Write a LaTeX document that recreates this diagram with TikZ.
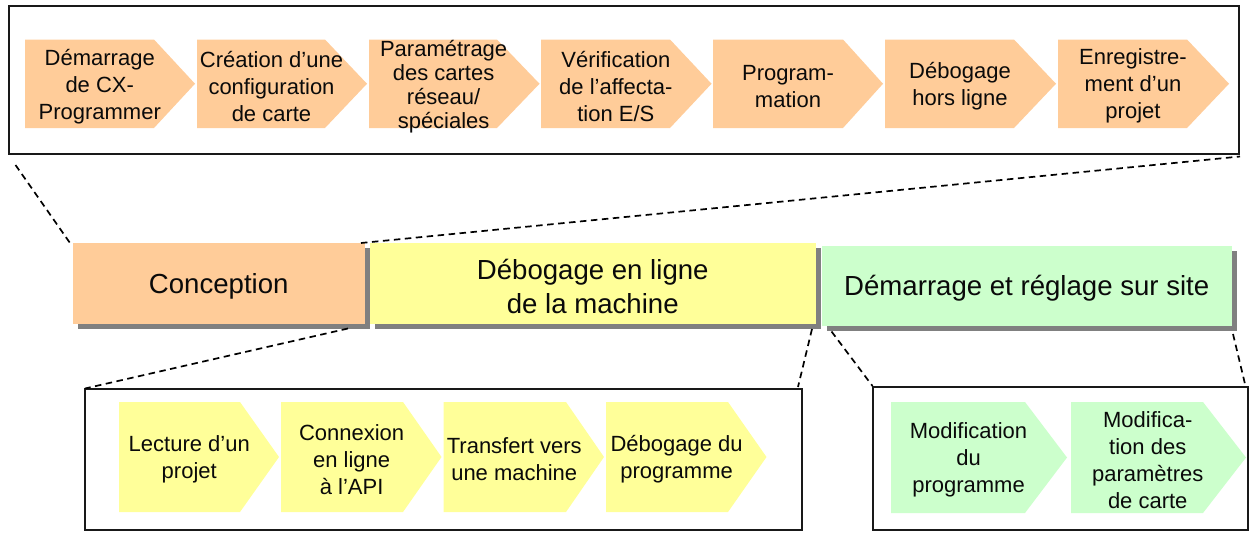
\documentclass[tikz,border=0pt]{standalone}
\usepackage{fontspec}
\setmainfont{Liberation Sans}
\usetikzlibrary{shadows}
\definecolor{cOrange}{HTML}{FFCC99}
\definecolor{cYellow}{HTML}{FFFF99}
\definecolor{cGreen}{HTML}{CCFFCC}
\definecolor{cShadow}{HTML}{808080}
\definecolor{cInk}{HTML}{0A0A0A}
\tikzset{
  framebox/.style={draw=black!90,line width=2pt,fill=white,inner sep=0pt},
  stagebox/.style={inner sep=0pt,
    general shadow={fill=cShadow,shadow xshift=5pt,shadow yshift=-5pt}},
  stagetext/.style={inner sep=0pt,align=center,text=cInk,yshift=-2.5pt,font=\fontsize{27.6}{34}\selectfont},
  steptext/.style={inner sep=0pt,align=center,text=cInk,yshift=-2.5pt,font=\fontsize{22}{27}\selectfont},
  zoomline/.style={draw=black,line width=1.7pt,dash pattern=on 6.5pt off 4.5pt}
}
% name, x0, shoulder, tip, ytop, ybottom, colour, text
\newcommand{\chevstep}[8]{%
  \fill[#7] (#2,#5) -- (#3,#5) -- (#4,{(#5+#6)/2}) -- (#3,#6) -- (#2,#6) -- cycle;
  \node[steptext] (#1) at ({(#2+(#3+#4)/2)/2},{(#5+#6)/2}) {#8};
}
\newcommand{\framedbox}[5]{%
  \node[framebox,minimum width=#4pt-#2pt,minimum height=#5pt-#3pt] (#1) at ({(#2+#4)/2},{(#3+#5)/2}) {};
}
\begin{document}
\begin{tikzpicture}[x=1pt,y=-1pt]
\useasboundingbox (0,0) rectangle (1250,533);
% frames
\framedbox{topframe}{9}{6}{1239}{154}
\framedbox{debugframe}{85}{389}{802}{530}
\framedbox{siteframe}{873}{387}{1248}{530}
% top steps
\chevstep{s1}{25}{154}{195}{39.5}{128}{cOrange}{Démarrage\\de CX-\\Programmer}
\chevstep{s2}{197}{325}{367}{39.5}{128}{cOrange}{Création d’une\\configuration\\de carte}
\chevstep{s3}{369}{497}{539.5}{39.5}{128}{cOrange}{Paramétrage\\[-3pt]des cartes\\[-3pt]réseau/\\[-3pt]spéciales}
\chevstep{s4}{541}{670}{711.5}{39.5}{128}{cOrange}{Vérification\\de l’affecta-\\tion E/S}
\chevstep{s5}{713}{843}{883}{39.5}{128}{cOrange}{Program-\\mation}
\chevstep{s6}{885}{1014}{1056}{39.5}{128}{cOrange}{Débogage\\hors ligne}
\chevstep{s7}{1058}{1187}{1229}{39.5}{128}{cOrange}{Enregistre-\\ment d’un\\projet}
% bottom-left steps
\chevstep{d1}{119}{240}{279}{402}{512}{cYellow}{Lecture d’un\\projet}
\chevstep{d2}{281}{403}{441.5}{402}{512}{cYellow}{Connexion\\en ligne\\à l’API}
\chevstep{d3}{443.5}{566}{604}{402}{512}{cYellow}{Transfert vers\\une machine}
\chevstep{d4}{606}{728}{766.5}{402}{512}{cYellow}{Débogage du\\programme}
% bottom-right steps
\chevstep{r1}{891}{1025}{1067}{402}{513}{cGreen}{Modification\\du\\programme}
\chevstep{r2}{1071}{1203}{1246}{402}{513}{cGreen}{Modifica-\\tion des\\paramètres\\de carte}
% stages
\node[stagebox,fill=cOrange,minimum width=291.5pt,minimum height=81pt,
  label={[stagetext]center:Conception}] (conception) at (218.75,283.5) {};
\node[stagebox,fill=cYellow,minimum width=446.5pt,minimum height=81pt,
  label={[stagetext]center:Débogage en ligne\\de la machine}] (online) at (592.75,283.5) {};
\node[stagebox,fill=cGreen,minimum width=410.5pt,minimum height=80pt,
  label={[stagetext]center:Démarrage et réglage sur site}] (onsite) at (1026.75,286) {};
% connector ends
\coordinate (a1) at (15.5,165); \coordinate (a2) at (70,243);
\coordinate (b1) at (361,243); \coordinate (b2) at (1240,156.5);
\coordinate (c1) at (348,328.5); \coordinate (c2) at (85,388.5);
\coordinate (e1) at (812,329); \coordinate (e2) at (798,387);
\coordinate (f1) at (831.5,331.5); \coordinate (f2) at (872.5,386);
\coordinate (g1) at (1233,334); \coordinate (g2) at (1245,384);
\draw[zoomline] (a1) -- (a2);
\draw[zoomline] (b1) -- (b2);
\draw[zoomline] (c1) -- (c2);
\draw[zoomline] (e1) -- (e2);
\draw[zoomline] (f1) -- (f2);
\draw[zoomline] (g1) -- (g2);
\end{tikzpicture}
\end{document}
